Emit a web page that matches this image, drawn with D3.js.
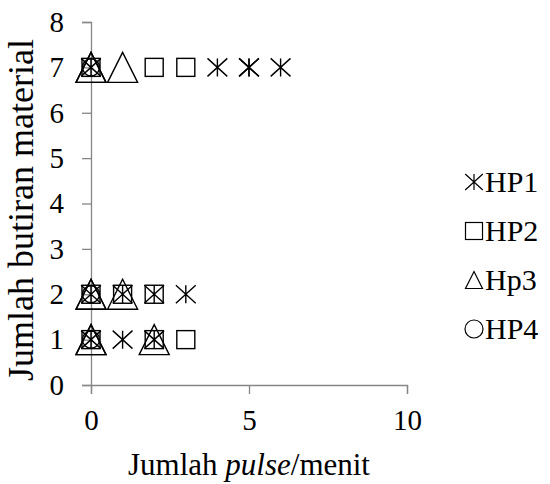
<!DOCTYPE html>
<html>
<head>
<meta charset="utf-8">
<script src="https://cdn.jsdelivr.net/npm/d3@7"></script>
<style>
  body { margin: 0; background: #fff; }
  svg text { font-family: "Liberation Serif", "Times New Roman", serif; fill: #000; }
</style>
</head>
<body>
<div id="chart"></div>
<script>
// series (x = pulse/menit, y = jumlah butiran)
var seriesNames = ['HP1', 'HP2', 'Hp3', 'HP4'];
var hp1X = [0, 4, 5, 5, 6, 0, 1, 2, 3, 0, 1, 2];
var hp1Y = [7, 7, 7, 7, 7, 2, 2, 2, 2, 1, 1, 1];
var hp2X = [0, 2, 3, 0, 1, 2, 0, 2, 3];
var hp2Y = [7, 7, 7, 2, 2, 2, 1, 1, 1];
var hp3X = [0, 0, 1, 0, 0, 1, 0, 0, 2];
var hp3Y = [7, 7, 7, 2, 2, 2, 1, 1, 1];
var hp4X = [0, 0, 0];
var hp4Y = [7, 2, 1];
var xTicks = [0, 5, 10];
var yTicks = [0, 1, 2, 3, 4, 5, 6, 7, 8];

(function(d3) {
  'use strict';

  var width = 550;
  var height = 484;
  var axisColor = '#868686';
  var serif = '"Liberation Serif", "Times New Roman", serif';

  var x = d3.scaleLinear().domain([0, 10]).range([91, 407]);
  var y = d3.scaleLinear().domain([0, 8]).range([385, 22]);

  var svg = d3.select('#chart')
    .append('svg')
    .attr('width', width)
    .attr('height', height)
    .style('font-family', serif);

  // axes
  var yAxis = svg.append('g')
    .attr('transform', 'translate(' + x(0) + ',0)')
    .call(d3.axisLeft(y).tickValues(yTicks).tickSize(9).tickPadding(18));
  var xAxis = svg.append('g')
    .attr('transform', 'translate(0,' + y(0) + ')')
    .call(d3.axisBottom(x).tickValues(xTicks).tickSize(9).tickPadding(8));

  [yAxis, xAxis].forEach(function(g) {
    g.attr('font-family', null).attr('font-size', null);
    g.select('.domain').attr('stroke', axisColor).attr('stroke-width', 1.3);
    g.selectAll('.tick line').attr('stroke', axisColor).attr('stroke-width', 1.3);
    g.selectAll('.tick text')
      .style('font-family', serif)
      .style('font-size', '29px')
      .attr('fill', '#000');
  });
  xAxis.selectAll('.tick text').attr('dy', '0.95em');

  // marker shapes
  function star(g, s) {
    var w = s * 0.55, h = s * 0.5;
    g.append('path').attr('d',
      'M' + (-w) + ',' + (-h) + 'L' + w + ',' + h +
      'M' + (-w) + ',' + h + 'L' + w + ',' + (-h) +
      'M0,' + (-h) + 'L0,' + h);
  }
  function square(g, s) {
    g.append('rect').attr('x', -s / 2).attr('y', -s / 2).attr('width', s).attr('height', s);
  }
  function triangle(g, s) {
    var w = s / 2, h = s / 2;
    g.append('path').attr('d', 'M0,' + (-h) + 'L' + w + ',' + h + 'L' + (-w) + ',' + h + 'Z');
  }
  function circle(g, s) {
    g.append('circle').attr('r', s / 2);
  }

  var series = [
    { name: seriesNames[0], xs: hp1X, ys: hp1Y, draw: star, size: 18, legendSize: 16 },
    { name: seriesNames[1], xs: hp2X, ys: hp2Y, draw: square, size: 18, legendSize: 17 },
    { name: seriesNames[2], xs: hp3X, ys: hp3Y, draw: triangle, size: 30, legendSize: 17 },
    { name: seriesNames[3], xs: hp4X, ys: hp4Y, draw: circle, size: 17, legendSize: 18 }
  ];

  var plot = svg.append('g')
    .attr('fill', 'none')
    .attr('stroke', '#000')
    .attr('stroke-width', 1.4);

  series.forEach(function(s) {
    s.xs.forEach(function(xv, i) {
      var m = plot.append('g')
        .attr('transform', 'translate(' + x(xv) + ',' + y(s.ys[i]) + ')');
      s.draw(m, s.size);
    });
  });

  // legend
  var legend = svg.append('g').attr('transform', 'translate(474,182)');
  series.forEach(function(s, i) {
    var row = legend.append('g').attr('transform', 'translate(0,' + (i * 49) + ')');
    var m = row.append('g').attr('fill', 'none').attr('stroke', '#000').attr('stroke-width', 1.2);
    s.draw(m, s.legendSize);
    row.append('text')
      .attr('x', 11)
      .attr('y', 10)
      .style('font-size', '30px')
      .text(s.name);
  });

  // axis titles
  var xt = svg.append('text')
    .attr('x', x(5))
    .attr('y', 475)
    .attr('text-anchor', 'middle')
    .style('font-size', '31px');
  xt.append('tspan').text('Jumlah ');
  xt.append('tspan').style('font-style', 'italic').text('pulse');
  xt.append('tspan').text('/menit');

  svg.append('text')
    .attr('transform', 'translate(33,381) rotate(-90)')
    .style('font-size', '36px')
    .text('Jumlah butiran material');

})(window.d3);
</script>
</body>
</html>
